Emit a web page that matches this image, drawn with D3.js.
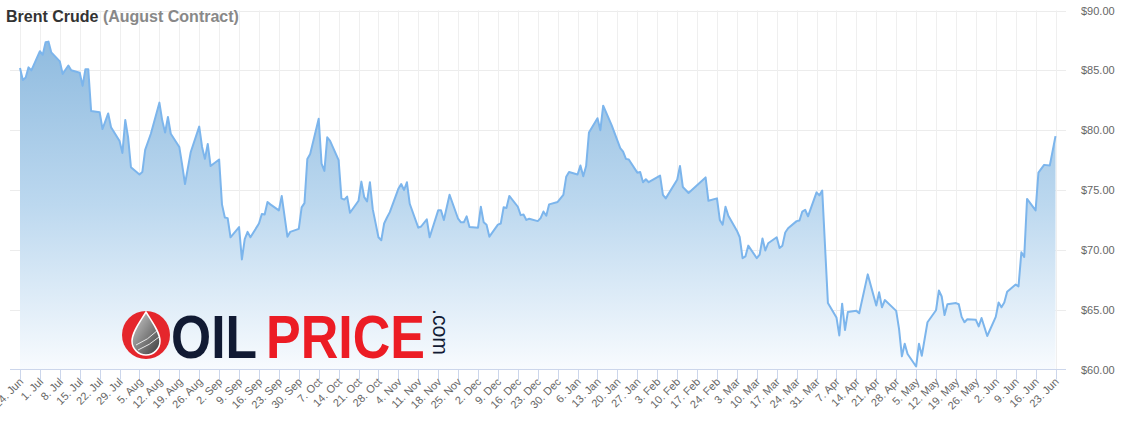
<!DOCTYPE html>
<html><head><meta charset="utf-8">
<script src="https://cdn.jsdelivr.net/npm/d3@7"></script>
<style>
html,body{margin:0;padding:0;background:#fff;}
svg{display:block;font-family:"Liberation Sans",Arial,sans-serif;}
</style></head>
<body>
<svg id="chart" width="1130" height="428"></svg>
<script>
const titleMain = "Brent Crude";
const titleSub = "(August Contract)";
const yTicks = [60, 65, 70, 75, 80, 85, 90];
const startDate = "2024-06-24";
const endDate = "2025-06-23";
const dates = [
"2024-06-24","2024-06-25","2024-06-26","2024-06-27","2024-06-28",
"2024-07-01","2024-07-02","2024-07-03","2024-07-04","2024-07-05",
"2024-07-08","2024-07-09","2024-07-11","2024-07-12",
"2024-07-15","2024-07-16","2024-07-17","2024-07-18","2024-07-19",
"2024-07-22","2024-07-23","2024-07-25","2024-07-26",
"2024-07-29","2024-07-30","2024-07-31","2024-08-01","2024-08-02",
"2024-08-05","2024-08-06","2024-08-07","2024-08-09",
"2024-08-12","2024-08-13","2024-08-14","2024-08-15","2024-08-16",
"2024-08-19","2024-08-20","2024-08-21","2024-08-23",
"2024-08-26","2024-08-27","2024-08-28","2024-08-29","2024-08-30",
"2024-09-02","2024-09-03","2024-09-04","2024-09-05","2024-09-06",
"2024-09-09","2024-09-10","2024-09-11","2024-09-12","2024-09-13",
"2024-09-16","2024-09-17","2024-09-18","2024-09-19","2024-09-20",
"2024-09-23","2024-09-24","2024-09-26","2024-09-27",
"2024-09-30","2024-10-01","2024-10-02","2024-10-03","2024-10-04",
"2024-10-07","2024-10-08","2024-10-09","2024-10-10","2024-10-11",
"2024-10-14","2024-10-15","2024-10-16","2024-10-17","2024-10-18",
"2024-10-21","2024-10-22","2024-10-23","2024-10-24","2024-10-25","2024-10-26",
"2024-10-28","2024-10-29","2024-10-30","2024-10-31","2024-11-01",
"2024-11-04","2024-11-05","2024-11-06","2024-11-07","2024-11-08",
"2024-11-11","2024-11-12","2024-11-14","2024-11-15",
"2024-11-18","2024-11-19","2024-11-20","2024-11-22",
"2024-11-25","2024-11-26","2024-11-27","2024-11-28","2024-11-29",
"2024-12-02","2024-12-03","2024-12-04","2024-12-05","2024-12-06",
"2024-12-09","2024-12-10","2024-12-11","2024-12-12","2024-12-13",
"2024-12-16","2024-12-17","2024-12-18","2024-12-19","2024-12-20",
"2024-12-23","2024-12-24","2024-12-25","2024-12-26","2024-12-27",
"2024-12-30","2025-01-01","2025-01-02","2025-01-03",
"2025-01-06","2025-01-07","2025-01-08","2025-01-09","2025-01-10",
"2025-01-13","2025-01-14","2025-01-15","2025-01-18",
"2025-01-21","2025-01-22","2025-01-23","2025-01-24",
"2025-01-27","2025-01-28","2025-01-29","2025-01-30","2025-01-31",
"2025-02-04","2025-02-05","2025-02-06",
"2025-02-10","2025-02-11","2025-02-12","2025-02-14",
"2025-02-20","2025-02-21",
"2025-02-24","2025-02-25","2025-02-26","2025-02-27","2025-02-28",
"2025-03-03","2025-03-04","2025-03-05","2025-03-06","2025-03-07",
"2025-03-10","2025-03-11","2025-03-12","2025-03-13","2025-03-14",
"2025-03-17","2025-03-18","2025-03-19","2025-03-20","2025-03-21",
"2025-03-24","2025-03-25","2025-03-26","2025-03-27","2025-03-28",
"2025-03-31","2025-04-01","2025-04-02","2025-04-04",
"2025-04-07","2025-04-08","2025-04-09","2025-04-10","2025-04-11",
"2025-04-14","2025-04-15","2025-04-18",
"2025-04-21","2025-04-22","2025-04-23","2025-04-24",
"2025-04-28","2025-04-29","2025-04-30","2025-05-01","2025-05-02",
"2025-05-05","2025-05-06","2025-05-07","2025-05-09",
"2025-05-12","2025-05-13","2025-05-14","2025-05-15","2025-05-16",
"2025-05-19","2025-05-20","2025-05-21","2025-05-22","2025-05-23",
"2025-05-26","2025-05-27","2025-05-28","2025-05-30",
"2025-06-02","2025-06-03","2025-06-04","2025-06-05","2025-06-06",
"2025-06-09","2025-06-10","2025-06-11","2025-06-12","2025-06-13",
"2025-06-16","2025-06-17","2025-06-19","2025-06-21","2025-06-23"
];
const prices = [
85.2,84.2,84.4,85.25,85.0,
86.6,86.3,87.35,87.4,86.5,
85.75,84.7,85.4,85.0,
84.8,83.7,85.1,85.1,81.6,
81.5,80.1,81.4,80.25,
79.1,78.1,80.85,79.4,76.9,
76.3,76.5,78.35,79.7,
82.3,80.8,79.8,81.1,79.7,
78.6,77.1,75.5,78.15,
80.3,78.6,77.6,78.85,77.0,
77.55,73.8,72.7,72.65,71.05,
71.9,69.2,70.9,71.5,71.05,
72.2,73.0,72.95,74.0,73.8,
73.3,74.5,71.1,71.5,
71.75,73.55,73.9,77.6,78.0,
80.95,77.2,76.6,79.4,79.1,
77.5,74.3,74.2,74.45,73.1,
74.1,75.7,74.4,74.05,75.65,73.4,
71.05,70.8,72.2,72.7,73.15,
75.1,75.5,75.0,75.65,73.85,
71.85,71.95,72.55,71.05,
73.3,73.3,72.5,74.6,
72.6,72.3,72.3,72.8,71.9,
71.85,73.6,72.3,72.1,71.1,
72.1,72.2,73.55,73.5,74.5,
73.6,72.9,72.95,72.5,72.6,
72.4,72.65,73.2,72.85,73.8,
74.0,74.6,76.1,76.5,
76.3,77.05,76.15,77.0,79.8,
81.0,80.0,82.05,80.4,
78.5,78.2,77.6,77.55,
76.45,76.5,75.65,75.9,75.65,
76.2,74.6,74.3,
75.85,77.0,75.25,74.75,
76.05,74.1,
74.3,72.5,72.1,73.6,72.85,
71.6,71.05,69.3,69.45,70.35,
69.3,69.6,70.95,69.95,70.55,
71.05,70.15,70.35,71.45,71.8,
72.4,72.45,73.2,73.35,72.8,
74.8,74.55,74.95,65.55,
64.35,62.85,65.5,63.3,64.8,
64.9,64.7,67.95,
65.35,66.45,65.2,65.8,
64.9,63.4,61.1,62.15,61.3,
60.25,62.15,61.15,63.95,
64.95,66.6,66.1,64.55,65.45,
65.55,65.45,64.4,63.95,64.2,
64.15,63.6,64.3,62.8,
64.4,65.6,65.2,65.6,66.5,
67.1,66.95,69.8,69.4,74.25,
73.3,76.45,77.1,77.05,79.5
];

const parse = d3.timeParse("%Y-%m-%d");
const data = dates.map((d, i) => ({date: parse(d), value: prices[i]}));

const svg = d3.select("#chart");
const plotLeft = 10, plotRight = 1066, plotTop = 10.5, plotBottom = 369.5;

const x = d3.scaleTime().domain([parse(startDate), parse(endDate)]).range([20, 1055.5]);
const y = d3.scaleLinear().domain([60, 90]).range([plotBottom, plotTop]);

const defs = svg.append("defs");
const grad = defs.append("linearGradient").attr("id", "areaGrad")
  .attr("gradientUnits", "userSpaceOnUse").attr("x1", 0).attr("x2", 0).attr("y1", 40).attr("y2", plotBottom);
grad.append("stop").attr("offset", 0).attr("stop-color", "#8fbbdf");
grad.append("stop").attr("offset", 0.5).attr("stop-color", "#bcd8ef");
grad.append("stop").attr("offset", 1).attr("stop-color", "#f8fbfe");

const dropGrad = defs.append("linearGradient").attr("id", "dropGrad")
  .attr("x1", 0).attr("x2", 1).attr("y1", 0).attr("y2", 1);
dropGrad.append("stop").attr("offset", 0).attr("stop-color", "#d0d0d0");
dropGrad.append("stop").attr("offset", 1).attr("stop-color", "#3a3a3a");

// horizontal grid lines
svg.append("g").selectAll("line").data(yTicks.filter(v => v > 60)).join("line")
  .attr("x1", plotLeft).attr("x2", plotRight)
  .attr("y1", d => Math.round(y(d)) + 0.5).attr("y2", d => Math.round(y(d)) + 0.5)
  .attr("stroke", "#ececec").attr("stroke-width", 1);

// weekly ticks
const weekTicks = d3.timeMonday.range(parse(startDate), d3.timeDay.offset(parse(endDate), 1));
svg.append("g").selectAll("line").data(weekTicks).join("line")
  .attr("x1", d => Math.round(x(d)) + 0.5).attr("x2", d => Math.round(x(d)) + 0.5)
  .attr("y1", plotTop).attr("y2", plotBottom)
  .attr("stroke", "#efefef").attr("stroke-width", 1);

// area + line
const area = d3.area().x(d => x(d.date)).y0(plotBottom).y1(d => y(d.value));
const line = d3.line().x(d => x(d.date)).y(d => y(d.value));
svg.append("path").datum(data).attr("d", area).attr("fill", "url(#areaGrad)");

// Logo watermark
const logo = svg.append("g");
logo.append("circle").attr("cx", 146).attr("cy", 335).attr("r", 24).attr("fill", "#e5262c");
logo.append("path")
  .attr("d", "M146,312 C140,322 132,332 132,341 A14,14 0 0 0 160,341 C160,332 152,322 146,312 Z")
  .attr("fill", "url(#dropGrad)").attr("stroke", "#ffffff").attr("stroke-width", 1.5);
logo.append("path").attr("d", "M136,345 Q148,340 158,330").attr("fill", "none").attr("stroke", "#e8e8e8").attr("stroke-width", 1);
logo.append("path").attr("d", "M138,350 Q150,345 159,337").attr("fill", "none").attr("stroke", "#e8e8e8").attr("stroke-width", 1);
logo.append("text").attr("x", 171).attr("y", 358).text("OIL")
  .attr("font-size", 62).attr("font-weight", "bold").attr("fill", "#111a33")
  .attr("textLength", 86).attr("lengthAdjust", "spacingAndGlyphs")
  .style("font-family", "'Liberation Sans', Arial, sans-serif");
logo.append("text").attr("x", 266).attr("y", 358).text("PRICE")
  .attr("font-size", 62).attr("font-weight", "bold").attr("fill", "#ec1c24")
  .attr("textLength", 159).attr("lengthAdjust", "spacingAndGlyphs")
  .style("font-family", "'Liberation Sans', Arial, sans-serif");
logo.append("text").attr("transform", "translate(433,309) rotate(90)").text(".com")
  .attr("font-size", 22).attr("fill", "#111a33")
  .attr("textLength", 46).attr("lengthAdjust", "spacingAndGlyphs");

svg.append("path").datum(data).attr("d", line).attr("fill", "none")
  .attr("stroke", "#7cb5ec").attr("stroke-width", 2).attr("stroke-linejoin", "round");

// x axis line
svg.append("line").attr("x1", plotLeft).attr("x2", plotRight)
  .attr("y1", plotBottom).attr("y2", plotBottom).attr("stroke", "#ccd6eb").attr("stroke-width", 1);
// tick marks
svg.append("g").selectAll("line").data(weekTicks).join("line")
  .attr("x1", d => Math.round(x(d)) + 0.5).attr("x2", d => Math.round(x(d)) + 0.5)
  .attr("y1", plotBottom).attr("y2", plotBottom + 10)
  .attr("stroke", "#ccd6eb").attr("stroke-width", 1);
// tick labels
const fmt = d3.timeFormat("%-d. %b");
svg.append("g").selectAll("text").data(weekTicks).join("text")
  .attr("transform", d => `translate(${x(d) + 4},${plotBottom + 13}) rotate(-45)`)
  .attr("text-anchor", "end").attr("font-size", 11).attr("fill", "#666666")
  .text(d => fmt(d));

// y labels
svg.append("g").selectAll("text").data(yTicks).join("text")
  .attr("x", 1081).attr("y", d => y(d) + 4)
  .attr("font-size", 11).attr("fill", "#666666")
  .text(d => "$" + d3.format(".2f")(d));

// title
const t = svg.append("text").attr("x", 6).attr("y", 22).attr("font-size", 16).attr("font-weight", "bold");
t.append("tspan").attr("fill", "#333333").text(titleMain + " ");
t.append("tspan").attr("fill", "#888888").text(titleSub);
</script>
</body></html>
